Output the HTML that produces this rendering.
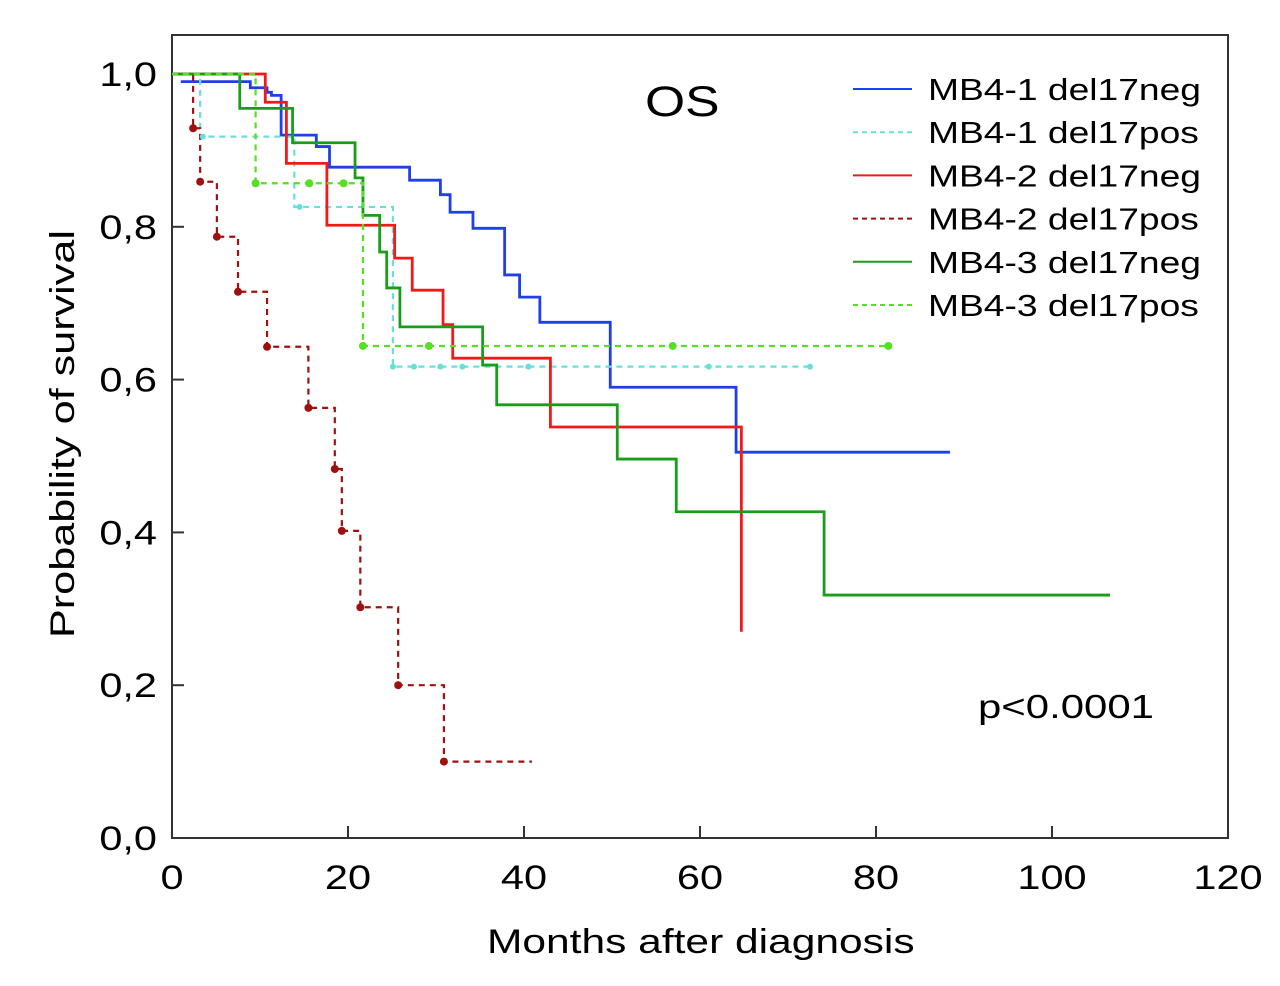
<!DOCTYPE html>
<html><head><meta charset="utf-8"><style>
body{margin:0;background:#fff;}
svg text{font-family:"Liberation Sans",Arial,sans-serif;fill:#000;}
</style></head><body>
<svg id="chart" width="1280" height="981" xmlns="http://www.w3.org/2000/svg">
<rect x="172" y="35" width="1056" height="803" fill="none" stroke="#333" stroke-width="2"/>
<g id="ticks"></g>
<g id="series"></g>
<text class="st" data-sx="1.2" x="645" y="116" font-size="43">OS</text>
<text class="st" data-sx="1.27" x="978" y="718" font-size="33">p&lt;0.0001</text>
<text class="st" data-sx="1.25" x="487" y="953" font-size="34">Months after diagnosis</text>
<text class="st" data-sx="1.27" transform="translate(74,638) rotate(-90)" font-size="34">Probability of survival</text>
<g id="legend"></g>
</svg>
<script>
const xTicks=[0,20,40,60,80,100,120];
const yTicks=[0,0.2,0.4,0.6,0.8,1.0];
const yTickLabels=["0,0","0,2","0,4","0,6","0,8","1,0"];
const seriesNames=["MB4-1 del17neg","MB4-1 del17pos","MB4-2 del17neg","MB4-2 del17pos","MB4-3 del17neg","MB4-3 del17pos"];
const seriesColors=["#1f3fe8","#66e0d8","#f01a1a","#a01010","#1a9e1a","#55e022"];
const seriesDashed=[false,true,false,true,false,true];
const t1n=[1,8.9,10.8,11.3,12.4,16.4,17.9,27,30.5,31.6,34.2,37.8,39.5,41.8,49.8,64.1,88.4];
const s1n=[0.99,0.982,0.976,0.972,0.92,0.905,0.878,0.861,0.842,0.819,0.798,0.737,0.708,0.675,0.59,0.505,0.505];
const t1p=[0,3.2,13.9,25.1,72.5];
const s1p=[1,0.918,0.826,0.617,0.617];
const t2n=[0,10.6,13,17.6,25.3,27.3,30.8,31.9,43,64.7,64.7];
const s2n=[1,0.963,0.883,0.802,0.759,0.717,0.672,0.628,0.538,0.27,0.27];
const t2p=[0,2.4,3.2,5.1,7.5,10.8,15.5,18.5,19.3,21.4,25.7,30.9,40.9];
const s2p=[1,0.929,0.859,0.787,0.715,0.643,0.563,0.483,0.402,0.302,0.2,0.1,0.1];
const t3n=[0,7.7,13.7,20.8,21.7,23.6,24.4,25.9,35.3,36.9,50.6,57.3,74.1,106.6];
const s3n=[1,0.955,0.91,0.864,0.815,0.767,0.72,0.669,0.619,0.567,0.496,0.427,0.318,0.318];
const t3p=[0,9.5,21.7,81.4];
const s3p=[1,0.857,0.644,0.644];
const allT=[t1n,t1p,t2n,t2p,t3n,t3p];
const allS=[s1n,s1p,s2n,s2p,s3n,s3p];
const cens3pT=[9.5,15.6,19.5,21.7,29.2,56.9,81.4];
const cens1pT=[3.5,14.5,25.1,27.5,30.5,33,40.5,61,72.5];
const cens2pT=[2.4,3.2,5.1,7.5,10.8,15.5,18.5,19.3,21.4,25.7,30.9];

const X=t=>172+t*8.8, Y=s=>838-s*764;
const NS="http://www.w3.org/2000/svg";
function mk(tag,parent,attrs){const e=document.createElementNS(NS,tag);for(const k in attrs)e.setAttribute(k,attrs[k]);parent.appendChild(e);return e;}
const tg=document.getElementById('ticks');
xTicks.forEach(v=>{
 const l=mk('line',tg,{x1:X(v),x2:X(v),y1:838,y2:826,stroke:'#333','stroke-width':2});
 
 
 const t=mk('text',tg,{x:X(v),y:889,'font-size':34,'text-anchor':'middle','class':'st','data-sx':'1.22'});
 t.textContent=v;
 
 
});
yTicks.forEach((v,i)=>{
 const l=mk('line',tg,{x1:172,x2:184,y1:Y(v),y2:Y(v),stroke:'#333','stroke-width':2});
 
 
 const t=mk('text',tg,{x:157,y:Y(v)+12,'font-size':34,'text-anchor':'end','class':'st','data-sx':'1.22'});
 t.textContent=yTickLabels[i];
 
 
});
const sg=document.getElementById('series');
function valAt(T,S,t){let v=S[0];for(let i=0;i<T.length;i++){if(T[i]<=t)v=S[i];}return v;}
allT.forEach((T,k)=>{
 const S=allS[k];
 let d=`M${X(T[0])},${Y(S[0])}`;
 for(let i=1;i<T.length;i++){d+=` H${X(T[i])} V${Y(S[i])}`;}
 const p=mk('path',sg,{d:d,fill:'none',stroke:seriesColors[k],'stroke-width':seriesDashed[k]?2.2:2.8,'stroke-dasharray':seriesDashed[k]?'6,5':'none'});
 
 
});
function dots(T,S,times,color,r){times.forEach(t=>{
 const c=mk('circle',sg,{cx:X(t),cy:Y(valAt(T,S,t)),r:r,fill:color});
 
 
});}
dots(t3p,s3p,cens3pT,seriesColors[5],4);
dots(t1p,s1p,cens1pT,seriesColors[1],3);
dots(t2p,s2p,cens2pT,seriesColors[3],4);
const lg=document.getElementById('legend');
seriesNames.forEach((n,k)=>{
 const y=89+k*43.2;
 const l=mk('line',lg,{x1:853,x2:912,y1:y,y2:y,stroke:seriesColors[k],'stroke-width':2,'stroke-dasharray':seriesDashed[k]?'5,4':'none'});
 
 
 const t=mk('text',lg,{x:928,y:y+11,'font-size':31,'class':'st','data-sx':'1.2'});
 t.textContent=n;
 
 
});
document.querySelectorAll('text.st').forEach(t=>{
 const w=t.getComputedTextLength()*parseFloat(t.getAttribute('data-sx'));
 t.setAttribute('textLength',w);
 t.setAttribute('lengthAdjust','spacingAndGlyphs');
});
</script>
</body></html>
